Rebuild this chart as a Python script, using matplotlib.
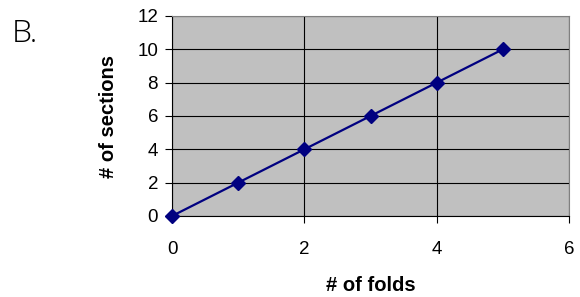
import matplotlib
matplotlib.use("Agg")
import matplotlib.pyplot as plt

folds = [0, 1, 2, 3, 4, 5]
sections = [0, 2, 4, 6, 8, 10]
x_ticks = [0, 2, 4, 6]
y_ticks = [0, 2, 4, 6, 8, 10, 12]

plt.rcParams['font.family'] = ['Liberation Sans', 'DejaVu Sans']

fig = plt.figure(figsize=(5.8, 2.97), dpi=100)
ax = fig.add_axes([172/580, 1-216/297, (569-172)/580, (216-16)/297])
ax.set_facecolor('#C0C0C0')
ax.plot(folds, sections, color='#000080', lw=1.6, marker='D', markersize=7,
        markerfacecolor='#000080', markeredgecolor='#000080', zorder=3, clip_on=False)
ax.set_xlim(0, 6)
ax.set_ylim(0, 12)
ax.set_xticks(x_ticks)
ax.set_yticks(y_ticks)
ax.grid(True, color='black', lw=0.8)
ax.set_axisbelow(True)
for s in ['top', 'right']:
    ax.spines[s].set_color('#808080')
for s in ['left', 'bottom']:
    ax.spines[s].set_color('black')
ax.tick_params(axis='both', labelsize=13.5, length=5, width=0.8, direction='out')
ax.tick_params(axis='x', pad=13)
ax.tick_params(axis='y', pad=5)
ax.set_xlabel('# of folds', fontsize=14.5, fontweight='bold', labelpad=13)
ax.set_ylabel('# of sections', fontsize=14.5, fontweight='bold', labelpad=14)
fig.text(12/580, 1-34/297, 'B.', fontsize=23, family=['Open Sans', 'DejaVu Sans'],
         fontweight='light', va='center', ha='left')
fig.savefig('out.png', dpi=100)
